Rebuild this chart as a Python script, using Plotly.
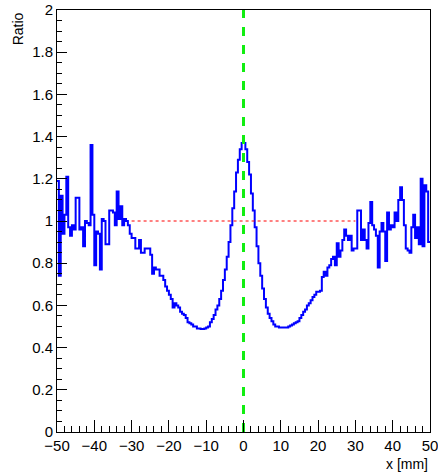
import plotly.graph_objects as go

# Histogram: 200 bins of 0.5 mm from -50 to 50
x_min = -50.0
bin_width = 0.5
ratio = [
    1.19, 0.74, 1.12, 0.94, 1.03, 1.21, 0.97, 0.93, 0.98, 0.96,
    1.11, 1.11, 0.96, 0.97, 0.88, 1.00, 0.99, 0.98, 1.36, 1.03,
    0.79, 0.95, 0.94, 0.77, 1.01, 1.00, 0.89, 0.89, 1.05, 1.05,
    1.04, 0.98, 1.14, 1.01, 1.07, 0.98, 1.01, 1.00, 0.98, 0.94,
    0.92, 0.92, 0.87, 0.87, 0.91, 0.85, 0.85, 0.87, 0.87, 0.87,
    0.84, 0.75, 0.78, 0.77, 0.77, 0.74, 0.74, 0.72, 0.69, 0.67,
    0.65, 0.63, 0.59, 0.61, 0.60, 0.59, 0.57, 0.56, 0.555, 0.54,
    0.52, 0.515, 0.51, 0.50, 0.50, 0.49, 0.49, 0.488, 0.488, 0.49,
    0.495, 0.50, 0.52, 0.535, 0.555, 0.58, 0.60, 0.63, 0.67, 0.72,
    0.77, 0.83, 0.90, 0.98, 1.06, 1.14, 1.23, 1.29, 1.34, 1.37,
    1.37, 1.34, 1.28, 1.22, 1.13, 1.05, 0.97, 0.88, 0.80, 0.74,
    0.68, 0.63, 0.59, 0.56, 0.54, 0.525, 0.51, 0.50, 0.50, 0.495,
    0.495, 0.495, 0.495, 0.495, 0.50, 0.505, 0.51, 0.515, 0.52, 0.525,
    0.54, 0.555, 0.57, 0.58, 0.60, 0.61, 0.625, 0.64, 0.65, 0.665,
    0.665, 0.67, 0.735, 0.76, 0.74, 0.78, 0.79, 0.82, 0.83, 0.79,
    0.895, 0.83, 0.86, 0.91, 0.96, 0.93, 0.91, 0.93, 0.86, 0.87,
    0.87, 1.05, 1.05, 0.91, 0.96, 0.91, 0.87, 0.99, 1.09, 0.98,
    0.96, 0.93, 0.78, 0.95, 0.99, 0.95, 0.81, 1.04, 0.96, 0.98,
    0.97, 1.04, 1.00, 1.10, 1.16, 1.10, 0.98, 0.87, 0.86, 0.85,
    0.97, 1.03, 0.92, 0.97, 0.89, 1.20, 0.88, 1.17, 1.14, 0.90,
]

ref_level = 1.0
ref_x = [-30, 30]
center_x = 0.0
y_range = [0, 2]
x_range = [-50, 50]
x_ticks = [-50, -40, -30, -20, -10, 0, 10, 20, 30, 40, 50]
x_tick_labels = ["\u221250", "\u221240", "\u221230", "\u221220", "\u221210", "0",
                 "10", "20", "30", "40", "50"]

edges = [x_min + bin_width * i for i in range(len(ratio) + 1)]
ys = ratio + [ratio[-1]]

fig = go.Figure()
fig.add_trace(go.Scatter(
    x=edges, y=ys, mode="lines", line=dict(shape="hv", color="#0000ff", width=2),
    showlegend=False, hoverinfo="skip"))

fig.add_trace(go.Scatter(
    x=ref_x, y=[ref_level, ref_level], mode="lines",
    line=dict(color="#ff0000", width=1, dash="dot"), showlegend=False))

fig.add_trace(go.Scatter(
    x=[center_x, center_x], y=y_range, mode="lines",
    line=dict(color="#11ee11", width=3, dash="dash"), showlegend=False))

font = "Liberation Sans, Arial, Helvetica, sans-serif"
fig.update_layout(
    width=438, height=474,
    margin=dict(l=57, r=8, t=10, b=42, autoexpand=False),
    paper_bgcolor="white", plot_bgcolor="white",
    font=dict(family=font, size=15, color="black"),
    xaxis=dict(range=x_range, tickvals=x_ticks, ticktext=x_tick_labels,
               ticks="inside", ticklen=12, tickcolor="black", automargin=False,
               ticklabeloverflow="allow",
               showline=True, mirror=True, linecolor="black", linewidth=1,
               showgrid=False, zeroline=False,
               minor=dict(ticks="inside", ticklen=6, dtick=2, tickcolor="black", showgrid=False)),
    yaxis=dict(range=y_range, dtick=0.2, tick0=0,
               ticks="inside", ticklen=10, tickcolor="black", automargin=False,
               ticklabeloverflow="allow",
               showline=True, mirror=True, linecolor="black", linewidth=1,
               showgrid=False, zeroline=False,
               minor=dict(ticks="inside", ticklen=5, dtick=0.05, tickcolor="black", showgrid=False)),
    annotations=[
        dict(text="Ratio", xref="paper", yref="paper", x=-0.105, y=1.0,
             xanchor="center", yanchor="top", textangle=-90, showarrow=False,
             font=dict(family=font, size=14)),
        dict(text="x [mm]", xref="paper", yref="paper", x=1.0, y=-0.052,
             xanchor="right", yanchor="top", showarrow=False,
             font=dict(family=font, size=14)),
    ],
)

fig.write_html("out.html", config={"displayModeBar": False},
               post_script="document.body.style.margin='0';document.body.style.padding='0';")
